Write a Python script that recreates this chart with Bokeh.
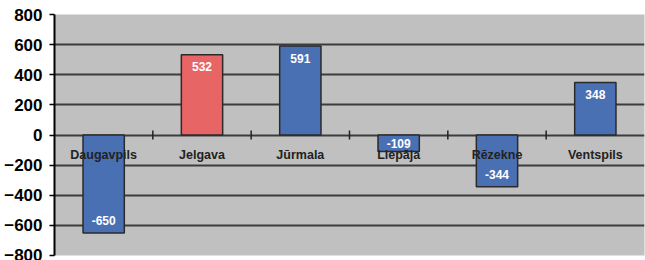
import numpy as np
from bokeh.plotting import figure
from bokeh.models import ColumnDataSource, FixedTicker, Range1d
from bokeh.core.properties import value
from bokeh.embed import file_html
from bokeh.resources import INLINE

categories = ["Daugavpils", "Jelgava", "Jūrmala", "Liepāja", "Rēzekne", "Ventspils"]
values = [-650, 532, 591, -109, -344, 348]
bar_colors = ["#4A70B4", "#E86565", "#4A70B4", "#4A70B4", "#4A70B4", "#4A70B4"]
y_ticks = [-800, -600, -400, -200, 0, 200, 400, 600, 800]

FONT = "Liberation Sans"

n = len(categories)
xs = np.arange(n) + 0.5
vals = np.array(values, dtype=float)
label_y = vals - np.sign(vals) * np.minimum(80, np.abs(vals) / 2)

src = ColumnDataSource(dict(
    x=xs, top=vals, color=bar_colors,
    label=[str(v) for v in values], label_y=label_y, cat=categories,
    zero=np.zeros(n),
))

p = figure(width=645, height=260, output_backend="svg", toolbar_location=None,
           x_range=Range1d(0, n), y_range=Range1d(y_ticks[0], y_ticks[-1]),
           x_axis_location=None, min_border_left=54, min_border_right=1,
           min_border_top=14, min_border_bottom=5)
p.background_fill_color = "#C0C0C0"
p.border_fill_color = "white"
p.outline_line_color = None

p.xgrid.visible = False
p.ygrid.ticker = FixedTicker(ticks=y_ticks)
p.ygrid.grid_line_color = "#3C3C3C"
p.ygrid.grid_line_width = 2

ax = p.yaxis[0]
ax.ticker = FixedTicker(ticks=y_ticks)
ax.axis_line_color = "black"
ax.axis_line_width = 2
ax.major_tick_line_color = "black"
ax.major_tick_line_width = 1.5
ax.major_tick_out = 5
ax.major_tick_in = 0
ax.minor_tick_line_color = None
ax.major_label_text_font = FONT
ax.major_label_text_font_style = "bold"
ax.major_label_text_font_size = "17px"
ax.major_label_text_color = "black"
ax.major_label_standoff = 7

p.vbar(x="x", top="top", bottom=0, width=0.42, fill_color="color",
       line_color="#2A2A2A", line_width=1.5, source=src)

# category boundary ticks on zero line
bounds = np.arange(1, n)
p.scatter(x=bounds, y=np.zeros(len(bounds)), marker="dash", angle=np.pi / 2,
          size=9, line_color="#222222", line_width=1.5)

p.text(x="x", y="zero", text="cat", source=src, text_font=value(FONT),
       text_font_style="bold", text_font_size="12.5px", text_color="#222222",
       text_align="center", text_baseline="middle", y_offset=20)

p.text(x="x", y="label_y", text="label", source=src, text_font=value(FONT),
       text_font_style="bold", text_font_size="12px", text_color="white",
       text_align="center", text_baseline="middle")

open("out.html", "w").write(file_html(p, INLINE))
